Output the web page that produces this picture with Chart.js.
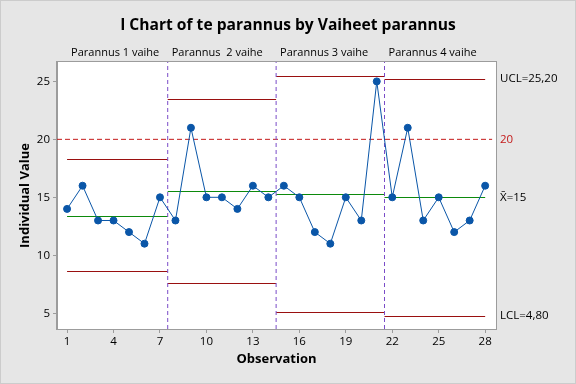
<!DOCTYPE html>
<html>
<head>
<meta charset="utf-8">
<script src="https://cdn.jsdelivr.net/npm/chart.js@4.4.1/dist/chart.umd.min.js"></script>
<style>
  body { margin: 0; background: #e6e6e6; }
  #wrap { width: 576px; height: 384px; }
</style>
</head>
<body>
<div id="wrap"><canvas id="iChart" width="576" height="384"></canvas></div>
<script>
// Individual values per observation
const obsValues = [14, 16, 13, 13, 12, 11, 15,
                   13, 21, 15, 15, 14, 16, 15,
                   16, 15, 12, 11, 15, 13, 25,
                   15, 21, 13, 15, 12, 13, 16];

// Stages
const stageNames = ['Parannus 1 vaihe', 'Parannus  2 vaihe', 'Parannus 3 vaihe', 'Parannus 4 vaihe'];
const stageFirst = [1, 8, 15, 22];
const stageLast = [7, 14, 21, 28];
const stageMean = [13.43, 15.57, 15.29, 15.0];
const stageUcl = [18.3, 23.48, 25.49, 25.2];
const stageLcl = [8.62, 7.6, 5.12, 4.8];

const refLine = 20;

// Axis ticks
const xTicks = [1, 4, 7, 10, 13, 16, 19, 22, 25, 28];
const yTicks = [5, 10, 15, 20, 25];
const rightValues = [25.2, 20, 15, 4.8];
const rightLabels = ['UCL=25,20', '20', 'X\u0304=15', 'LCL=4,80'];

const xMin = 0.35, xMax = 28.7;
const yMin = 3.64, yMax = 26.67;

const FONT = "'Open Sans', 'Noto Sans', sans-serif";
const blue = '#0a56a8';
const green = '#0c8a0c';
const darkRed = '#9a1010';
const red = '#c41a1a';
const purple = '#7a4cc8';
const frameGray = '#9c9c9c';

// snap a horizontal line value onto a pixel row so it draws crisp
function crisp(chart, v) {
  const ys = chart.scales.y;
  return ys.getValueForPixel(Math.round(ys.getPixelForValue(v)) + 0.5);
}

const datasets = [];

datasets.push({
  label: 'te parannus',
  data: obsValues.map((v, i) => ({ x: i + 1, y: v })),
  showLine: true,
  borderColor: blue,
  borderWidth: 1,
  backgroundColor: blue,
  pointBackgroundColor: blue,
  pointBorderColor: blue,
  pointRadius: 3.5,
  order: 0
});

const limitSets = [];
stageNames.forEach((name, i) => {
  const x0 = i === 0 ? stageFirst[i] : stageFirst[i] - 0.5;
  const x1 = i === stageNames.length - 1 ? stageLast[i] : stageLast[i] + 0.5;
  [[stageMean[i], green], [stageUcl[i], darkRed], [stageLcl[i], darkRed]].forEach(([v, c]) => {
    const ds = {
      data: [{ x: x0, y: v }, { x: x1, y: v }],
      showLine: true, borderColor: c, borderWidth: 1, pointRadius: 0, order: 2
    };
    ds.value = v;
    limitSets.push(ds);
    datasets.push(ds);
  });
  if (i < stageNames.length - 1) {
    datasets.push({
      data: [{ x: stageLast[i] + 0.5, y: yMin }, { x: stageLast[i] + 0.5, y: yMax }],
      showLine: true, borderColor: purple, borderWidth: 1, borderDash: [4, 3],
      pointRadius: 0, order: 1
    });
  }
});

datasets.push({
  data: [{ x: xMin, y: refLine }, { x: xMax - 0.25, y: refLine }],
  showLine: true, borderColor: red, borderWidth: 1, borderDash: [5, 3],
  pointRadius: 0, order: 1
});

const paperPlugin = {
  id: 'paper',
  afterLayout(chart) {
    // nudge the limit lines to whole pixel rows (first pass only)
    if (chart._snapped) return;
    chart._snapped = true;
    limitSets.forEach(ds => {
      const v = crisp(chart, ds.value);
      ds.data[0].y = v;
      ds.data[1].y = v;
    });
    chart.update('none');
  },
  beforeDraw(chart) {
    const { ctx, chartArea: a } = chart;
    ctx.save();
    ctx.fillStyle = '#e6e6e6';
    ctx.fillRect(0, 0, chart.width, chart.height);
    ctx.strokeStyle = '#cccccc';
    ctx.strokeRect(0.5, 0.5, chart.width - 1, chart.height - 1);
    ctx.fillStyle = '#ffffff';
    ctx.fillRect(a.left, a.top, a.right - a.left, a.bottom - a.top);
    ctx.restore();
  },
  afterDraw(chart) {
    const { ctx, chartArea: a } = chart;
    const xs = chart.scales.x;
    ctx.save();
    ctx.strokeStyle = frameGray;
    ctx.lineWidth = 1;
    ctx.strokeRect(Math.round(a.left) - 0.5, Math.round(a.top) - 0.5,
                   Math.round(a.right - a.left) + 1, Math.round(a.bottom - a.top) + 1);
    // stage labels
    ctx.fillStyle = '#000';
    ctx.font = '11px ' + FONT;
    ctx.textAlign = 'left';
    ctx.textBaseline = 'middle';
    stageNames.forEach((name, i) => {
      const x0 = i === 0 ? stageFirst[i] : stageFirst[i] - 0.5;
      ctx.fillText(name, xs.getPixelForValue(x0) + 4, 53);
    });
    ctx.restore();
  }
};

new Chart(document.getElementById('iChart'), {
  type: 'scatter',
  data: { datasets: datasets },
  options: {
    responsive: false,
    animation: false,
    layout: { padding: { left: 0, right: 0, top: 0, bottom: 0 } },
    plugins: {
      legend: { display: false },
      tooltip: { enabled: false },
      title: {
        display: true,
        text: 'I Chart of te parannus by Vaiheet parannus',
        color: '#000',
        font: { family: FONT, size: 15.6, weight: 'bold' },
        padding: { top: 16, bottom: 27.3 }
      }
    },
    scales: {
      x: {
        type: 'linear',
        min: xMin, max: xMax,
        afterBuildTicks: s => { s.ticks = xTicks.map(v => ({ value: v })); },
        afterFit: s => { s.height = 55; },
        grid: { drawOnChartArea: false, drawTicks: true, tickLength: 4, color: frameGray },
        border: { display: true, color: frameGray },
        ticks: { autoSkip: false, maxRotation: 0, padding: 2, color: '#000',
                 font: { family: FONT, size: 11.5 } },
        title: { display: true, text: 'Observation', color: '#000',
                 font: { family: FONT, size: 13, weight: 'bold' },
                 padding: { top: 0, bottom: 17 } }
      },
      y: {
        type: 'linear',
        position: 'left',
        min: yMin, max: yMax,
        afterBuildTicks: s => { s.ticks = yTicks.map(v => ({ value: v })); },
        afterFit: s => { s.width = 57; },
        grid: { drawOnChartArea: false, drawTicks: true, tickLength: 4, color: frameGray },
        border: { display: true, color: frameGray },
        ticks: { padding: 3, color: '#000', font: { family: FONT, size: 11.5 } },
        title: { display: true, text: 'Individual Value', color: '#000',
                 font: { family: FONT, size: 13, weight: 'bold' },
                 padding: { top: 17.5, bottom: 0 } }
      },
      y2: {
        type: 'linear',
        position: 'right',
        min: yMin, max: yMax,
        afterBuildTicks: s => { s.ticks = rightValues.map(v => ({ value: v })); },
        afterFit: s => { s.width = 80; },
        grid: { display: false, drawTicks: false },
        border: { display: false },
        ticks: {
          padding: 4,
          color: c => (c.tick && c.tick.value === refLine ? red : '#000'),
          font: { family: FONT, size: 11.5 },
          callback: (v, i) => rightLabels[i]
        }
      }
    }
  },
  plugins: [paperPlugin]
});
</script>
</body>
</html>
